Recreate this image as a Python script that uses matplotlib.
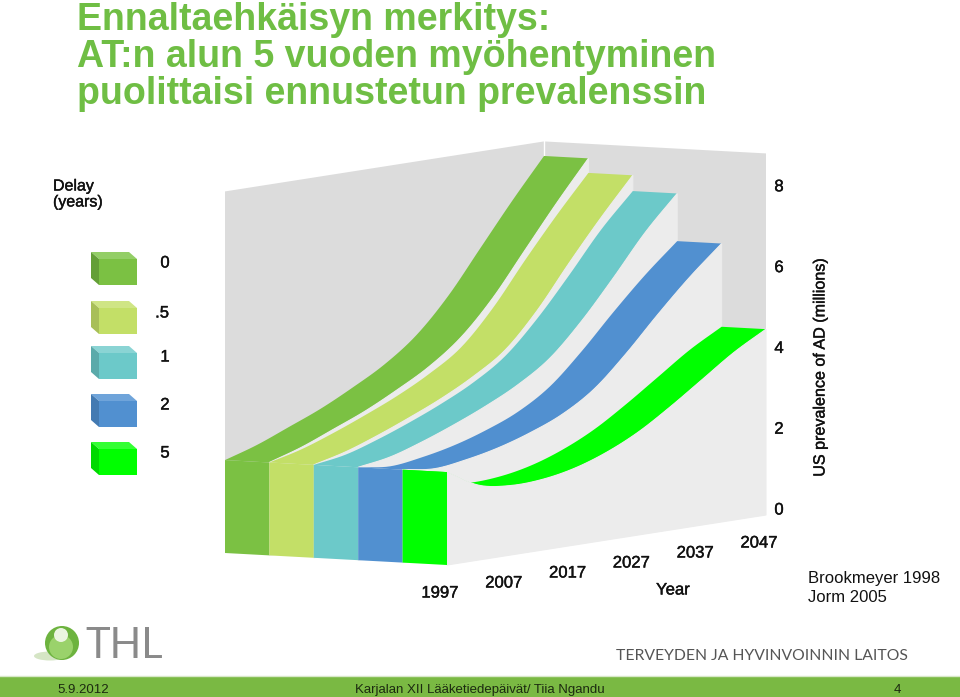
import numpy as np
import matplotlib
matplotlib.use("Agg")
import matplotlib.pyplot as plt
import matplotlib.patheffects as pe
from matplotlib.patches import Polygon, Circle, Ellipse, Rectangle

plt.rcParams["font.family"] = ["Liberation Sans", "DejaVu Sans"]

# values (millions)
years = [1997, 2002, 2007, 2012, 2017, 2022, 2027, 2032, 2037, 2042, 2047]
delay_0 = [2.3, 2.55, 2.87, 3.2, 3.6, 4.05, 4.65, 5.5, 6.55, 7.6, 8.59]
delay_05 = [2.3, 2.5, 2.78, 3.1, 3.45, 3.87, 4.4, 5.25, 6.3, 7.3, 8.23]
delay_1 = [2.3, 2.43, 2.68, 2.98, 3.32, 3.72, 4.25, 5.05, 6.0, 7.0, 7.84]
delay_2 = [2.3, 2.2, 2.3, 2.47, 2.72, 3.05, 3.55, 4.3, 5.15, 5.95, 6.66]
delay_5 = [2.3, 1.85, 1.72, 1.75, 1.9, 2.17, 2.55, 3.05, 3.6, 4.15, 4.6]
series = [delay_0, delay_05, delay_1, delay_2, delay_5]

delay_labels = ["0", ".5", "1", "2", "5"]
colors = ["#7BC143", "#C3DF67", "#6CC9C9", "#5190D0", "#00FF00"]
top_colors = ["#93CE66", "#CFE585", "#8AD4D4", "#6FA4DA", "#33FF33"]
side_colors = ["#649F37", "#A8BF58", "#5BAAAA", "#437AB2", "#00D900"]

year_ticks = [1997, 2007, 2017, 2027, 2037, 2047]
value_ticks = [0, 2, 4, 6, 8]
wall_top = 8.95

TITLE_GREEN = "#6FBE44"
WALL = "#DCDCDC"
SIDE = "#ECECEC"
INK = "#111111"


def project(year, row, value):
    """oblique projection: year along the floor, row across, value straight up"""
    t = (np.asarray(year, dtype=float) - 1997) / 50
    x = 225 + 44.4 * row + 319 * t
    y = 553 + 2.4 * row - 50 * t - 40.4 * np.asarray(value, dtype=float)
    return x, y


def rounded(xs, ys, steps=8):
    """catmull-rom through the projected points, only so the edge is not angular"""
    p = np.column_stack([xs, ys])
    p = np.vstack([2 * p[0] - p[1], p, 2 * p[-1] - p[-2]])
    out = []
    for i in range(1, len(p) - 2):
        for u in np.linspace(0, 1, steps, endpoint=False):
            out.append(0.5 * (2 * p[i] + (p[i + 1] - p[i - 1]) * u
                              + (2 * p[i - 1] - 5 * p[i] + 4 * p[i + 1] - p[i + 2]) * u ** 2
                              + (3 * p[i] - p[i - 1] - 3 * p[i + 1] + p[i + 2]) * u ** 3))
    out.append(p[-2])
    out = np.array(out)
    return out[:, 0], out[:, 1]


def poly(ax, xs, ys, color, z=1, edge=False):
    ax.add_patch(Polygon(np.column_stack([xs, ys]), closed=True, facecolor=color,
                         edgecolor=color if edge else "none", linewidth=0.8 if edge else 0, zorder=z))


fig = plt.figure(figsize=(9.6, 6.97), dpi=100)
ax = fig.add_axes([0, 0, 1, 1])
ax.set_xlim(0, 960)
ax.set_ylim(697, 0)
ax.axis("off")

heavy = [pe.withStroke(linewidth=0.3, foreground=INK)]

# title
for line, y in zip(["Ennaltaehkäisyn merkitys:", "AT:n alun 5 vuoden myöhentyminen",
                    "puolittaisi ennustetun prevalenssin"], [30, 67, 104]):
    ax.text(77, y, line, color=TITLE_GREEN, fontsize=27, fontweight="bold",
            va="baseline", ha="left")

# walls
x0, y0 = project(1997, 0, 0)
x1, y1 = project(1997, 0, wall_top)
x2, y2 = project(2047, 0, wall_top)
x3, y3 = project(2047, 0, 0)
poly(ax, [x0, x1, x2, x3], [y0, y1, y2, y3], WALL)
x4, y4 = project(2047, 5, wall_top)
x5, y5 = project(2047, 5, 0)
poly(ax, [x3, x2, x4, x5], [y3, y2, y4, y5], WALL)
ax.plot([x2, x3], [y2, y3], color="white", lw=1, zorder=1.1)

# ribbons, far one first
yrs = np.array(years)
for i, vals in enumerate(series):
    lx, ly = rounded(*project(yrs, i, vals))
    rx, ry = rounded(*project(yrs, i + 1, vals))
    poly(ax, np.r_[lx, rx[::-1]], np.r_[ly, ry[::-1]], colors[i], z=2 + i)
    fx, fy = project(yrs, i + 1, np.zeros(len(yrs)))
    poly(ax, np.r_[rx, fx[::-1]], np.r_[ry, fy[::-1]], SIDE, z=2 + i + 0.1, edge=True)

for i, vals in enumerate(series):
    ax_, ay = project(1997, i, 0)
    bx, by = project(1997, i + 1, 0)
    cx, cy = project(1997, i + 1, vals[0])
    dx, dy = project(1997, i, vals[0])
    poly(ax, [ax_, bx, cx, dx], [ay, by, cy, dy], colors[i], z=8)

# axis labels
lab = dict(fontsize=12, color=INK, ha="center", va="center", path_effects=heavy, zorder=9)
for v in value_ticks:
    _, y = project(2047, 5, v)
    ax.text(779, y - 5, str(v), **lab)
for yr in year_ticks:
    x, y = project(yr, 5, 0)
    ax.text(x - 7, y + 28, str(yr), **lab)
ax.text(673, 590, "Year", **lab)
ax.text(820, 367, "US prevalence of AD (millions)", rotation=90, fontsize=11.6, color=INK,
        ha="center", va="center", path_effects=heavy)

# legend
ax.text(53, 194, "Delay\n(years)", fontsize=11.5, color=INK, ha="left", va="center",
        linespacing=1.08, path_effects=heavy)
cube_tops = [259, 308, 353, 401, 449]
label_ys = [263, 313, 357, 405, 453]
for lbl, top, ly, c, ct, cs in zip(delay_labels, cube_tops, label_ys, colors, top_colors, side_colors):
    bot = top + 26
    poly(ax, [99, 137, 137, 99], [top, top, bot, bot], c)
    poly(ax, [99, 137, 129, 91], [top, top, top - 7, top - 7], ct)
    poly(ax, [91, 99, 99, 91], [top - 7, top, bot, bot - 7], cs)
    ax.text(165 if lbl != ".5" else 162, ly, lbl, **lab)

# source
ax.text(808, 578, "Brookmeyer 1998", fontsize=12, color=INK, va="center")
ax.text(808, 598, "Jorm 2005", fontsize=12, color=INK, va="center")

# THL logo
ax.add_patch(Ellipse((50, 656), 32, 9, facecolor="#D5E5C5", edgecolor="none", zorder=2))
ax.add_patch(Circle((62, 643), 17, facecolor="#6DB33F", edgecolor="none", zorder=3))
ax.add_patch(Circle((61, 647), 12, facecolor="#9AD26B", edgecolor="none", zorder=3.1))
ax.add_patch(Circle((61, 635), 7, facecolor="#EAF5E0", edgecolor="none", zorder=3.2))
ax.text(85, 643, "THL", fontsize=30, color="#8A8A8A", family="Lato", va="center_baseline", ha="left")
ax.text(616, 655.5, "TERVEYDEN JA HYVINVOINNIN LAITOS", fontsize=11.3, color="#555555",
        family="Lato", va="center", ha="left")

# footer
ax.add_patch(Rectangle((0, 677), 960, 20, facecolor="#7AB943", edgecolor="none"))
ax.plot([0, 960], [676, 676], color="#D8E8C8", lw=1)
foot = dict(fontsize=9.5, color="#1C2A10", va="baseline")
ax.text(57, 693, "5.9.2012", ha="left", **foot)
ax.text(355, 693, "Karjalan XII Lääketiedepäivät/ Tiia Ngandu", ha="left", **foot)
ax.text(897, 693, "4", ha="center", **foot)

fig.savefig("out.png", dpi=100)
